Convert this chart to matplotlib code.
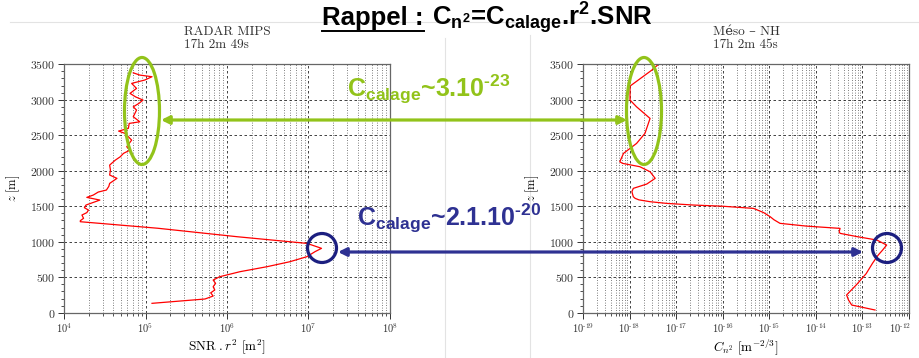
import numpy as np
import matplotlib
matplotlib.use('Agg')
import matplotlib.pyplot as plt
from matplotlib.patches import Ellipse, FancyArrowPatch
from matplotlib.lines import Line2D
from matplotlib.transforms import ScaledTranslation
from matplotlib.ticker import (FixedLocator, LogLocator, MultipleLocator,
                               NullFormatter, FuncFormatter)

plt.rcParams['font.family'] = ['cmr10', 'DejaVu Serif']
plt.rcParams['mathtext.fontset'] = 'cm'
plt.rcParams['axes.formatter.use_mathtext'] = True
plt.rcParams['axes.unicode_minus'] = True
for k in ('rm', 'it', 'bf', 'sf'):
    plt.rcParams['mathtext.' + k] = 'Liberation Sans:bold'

# ── DATA ──────────────────────────────────────────────────────────────────────
# RADAR MIPS : altitude [m] and log10(SNR.r^2)
radar_z = [132, 193, 235, 280, 320, 366, 413, 460, 507, 578, 648, 718, 789, 860,
           907, 950, 977, 1070, 1190, 1282, 1296, 1330, 1376, 1410, 1446, 1480,
           1517, 1587, 1625, 1658, 1700, 1728, 1780, 1822, 1893, 1940, 2010, 2080,
           2150, 2197, 2245, 2291, 2338, 2385, 2432, 2526, 2559, 2597, 2667, 2690,
           2761, 2855, 2901, 2950, 2996, 3040, 3090, 3160, 3231, 3278, 3325, 3348,
           3380]
radar_log = [5.08, 5.73, 5.83, 5.80, 5.85, 5.83, 5.86, 5.83, 5.91, 6.16, 6.49, 6.77,
             6.98, 7.08, 7.16, 7.05, 6.98, 6.13, 5.15, 4.20, 4.20, 4.24, 4.22, 4.28,
             4.30, 4.25, 4.27, 4.44, 4.28, 4.36, 4.42, 4.52, 4.55, 4.56, 4.65, 4.56,
             4.57, 4.56, 4.63, 4.69, 4.73, 4.81, 4.77, 4.80, 4.83, 4.75, 4.67, 4.79,
             4.80, 4.93, 4.85, 4.89, 4.85, 4.92, 4.97, 4.88, 4.81, 4.89, 4.83, 4.99,
             5.08, 4.93, 4.85]
radar_decades = [4, 5, 6, 7, 8]

# Méso-NH : altitude [m] and log10(Cn2)
meso_z = [38, 108, 180, 250, 400, 550, 700, 813, 880, 953, 1024, 1070, 1118, 1141,
          1188, 1220, 1259, 1310, 1352, 1410, 1470, 1500, 1517, 1540, 1564, 1590,
          1611, 1634, 1705, 1752, 1813, 1893, 1986, 2057, 2104, 2127, 2245, 2385,
          2526, 2737, 2901, 2996, 3193, 3419, 3500]
meso_log = [-12.73, -13.23, -13.30, -13.34, -13.12, -12.92, -12.78, -12.66, -12.57,
            -12.48, -12.69, -13.10, -13.48, -13.50, -13.48, -14.20, -14.77, -14.90,
            -14.98, -15.12, -15.34, -16.00, -16.63, -17.20, -17.56, -17.80, -17.88,
            -17.92, -17.95, -17.92, -17.63, -17.45, -17.56, -17.78, -18.15, -18.21,
            -18.13, -17.85, -17.67, -17.56, -17.85, -17.99, -17.99, -17.52, -17.38]
meso_decades = [-19, -18, -17, -16, -15, -14, -13, -12]

GREEN = '#92c31a'
BLUE = '#2e3192'
NAVY = '#1c1f80'

fig = plt.figure(figsize=(9.2, 3.58), dpi=100)
fig.patch.set_facecolor('white')
T = fig.dpi_scale_trans


def px(x, y):
    # pixel position (from top-left) -> inches for dpi_scale_trans
    return (x / 100, (358 - y) / 100)


# ── faint slide lines ─────────────────────────────────────────────────────────
for xs, ys in [((10, 920), (22, 22)), ((445, 445), (38, 358)), ((530, 530), (35, 358))]:
    fig.add_artist(Line2D([v / 100 for v in xs], [(358 - v) / 100 for v in ys],
                          transform=T, color='#e3e3e3', lw=0.8, zorder=0))


def decade_label(v, pos):
    # short hyphen in the exponent, like the original LaTeX-ish labels
    return r'$10^{\text{%d}}$' % int(round(np.log10(v)))


def style_axes(ax, decades):
    ax.set_xscale('log')
    ax.set_xlim(10.0 ** decades[0], 10.0 ** decades[-1])
    ax.set_ylim(0, 3500)
    ax.xaxis.set_major_locator(FixedLocator([10.0 ** d for d in decades]))
    ax.xaxis.set_major_formatter(FuncFormatter(decade_label))
    ax.xaxis.set_minor_locator(LogLocator(base=10, subs=np.arange(2, 10), numticks=20))
    ax.xaxis.set_minor_formatter(NullFormatter())
    ax.yaxis.set_major_locator(MultipleLocator(500))
    ax.yaxis.set_minor_locator(MultipleLocator(100))
    ax.grid(True, which='major', color='#222222', lw=0.6, ls=(0, (3, 3)))
    ax.grid(True, which='minor', axis='x', color='#333333', lw=0.5, ls=(0, (1.2, 2.4)))
    ax.tick_params(which='major', direction='out', length=4, width=0.7,
                   labelsize=8.5, colors='#333333', pad=2)
    ax.tick_params(which='minor', direction='out', length=2.5, width=0.6, colors='#333333')
    ax.tick_params(axis='x', which='major', labelsize=7.5)
    for s in ax.spines.values():
        s.set_edgecolor('#666666')
        s.set_linewidth(0.9)
    ax.set_ylabel(r'$z\ [\mathrm{m}]$', fontsize=9, labelpad=6)


ax1 = fig.add_axes([64 / 920, 1 - 312.7 / 358, 326 / 920, 248.4 / 358])
ax1.plot(10 ** np.array(radar_log), radar_z, color='red', lw=0.9)
style_axes(ax1, radar_decades)
ax1.set_xlabel(r'$\mathrm{SNR}\ .r^2\ [\mathrm{m}^2]$', fontsize=9.5, labelpad=2)
ax1.set_title('RADAR MIPS\n17h 2m 49s', fontsize=9.5, ma='left', pad=12,
              color='#333333', linespacing=1.05)

ax2 = fig.add_axes([583 / 920, 1 - 312.7 / 358, 326 / 920, 248.4 / 358])
ax2.plot(10 ** np.array(meso_log), meso_z, color='red', lw=0.9)
style_axes(ax2, meso_decades)
ax2.set_xlabel(r'$C_{n^2}\ [\mathrm{m}^{-2/3}]$', fontsize=9.5, labelpad=2)
ax2.set_title('Méso – NH\n17h 2m 45s', fontsize=9.5, ma='left', pad=12,
              color='#333333', linespacing=1.05)

# keep the last decade label (10^-12) inside the figure edge
fig.canvas.draw()
last = ax2.xaxis.get_major_ticks()[-1]
last.label1.set_horizontalalignment('right')
last.label1.set_transform(last.label1.get_transform() + ScaledTranslation(2 / 100, 0, T))

# ── title with underlined "Rappel :" ─────────────────────────────────────────
sans = dict(family='Liberation Sans', fontweight='bold', math_fontfamily='custom')
t1 = fig.text(*px(322, 25), 'Rappel :', transform=T, fontsize=18.5, va='baseline',
              ha='left', **sans)
renderer = fig.canvas.get_renderer()
bb = t1.get_window_extent(renderer=renderer)
fig.add_artist(Line2D([bb.x0 / 100, bb.x1 / 100], [(bb.y0 - 1) / 100] * 2,
                      transform=T, color='black', lw=1.4))
fig.text((bb.x1 + 9) / 100, (358 - 25) / 100,
         r'C$_{n^{2}}$=C$_{calage}$.r$^{2}$.SNR', transform=T, fontsize=18.5,
         va='baseline', ha='left', **sans)

# ── green annotation ─────────────────────────────────────────────────────────
for cx in (142, 644):
    fig.add_artist(Ellipse(px(cx, 111), 0.35, 1.07, transform=T, fill=False,
                           ec=GREEN, lw=2.3, zorder=5))
fig.add_artist(FancyArrowPatch(px(627, 120), px(161, 120), transform=T,
                               arrowstyle='<|-|>', mutation_scale=12, lw=2.3,
                               color=GREEN, shrinkA=0, shrinkB=0, zorder=5))
fig.text(*px(347, 97), r'C$_{calage}$~3.10$^{\text{-23}}$', transform=T, fontsize=18,
         color=GREEN, va='baseline', ha='left', zorder=6, **sans)

# ── blue annotation ──────────────────────────────────────────────────────────
for cx in (322, 887):
    fig.add_artist(Ellipse(px(cx, 248), 0.29, 0.29, transform=T, fill=False,
                           ec=NAVY, lw=2.3, zorder=5))
fig.add_artist(FancyArrowPatch(px(338, 252), px(863, 252), transform=T,
                               arrowstyle='<|-|>', mutation_scale=12, lw=2.3,
                               color=BLUE, shrinkA=0, shrinkB=0, zorder=5))
fig.text(*px(357, 226), r'C$_{calage}$~2.1.10$^{\text{-20}}$', transform=T, fontsize=18,
         color=BLUE, va='baseline', ha='left', zorder=6, **sans)

fig.savefig('out.png', dpi=100, facecolor='white')
